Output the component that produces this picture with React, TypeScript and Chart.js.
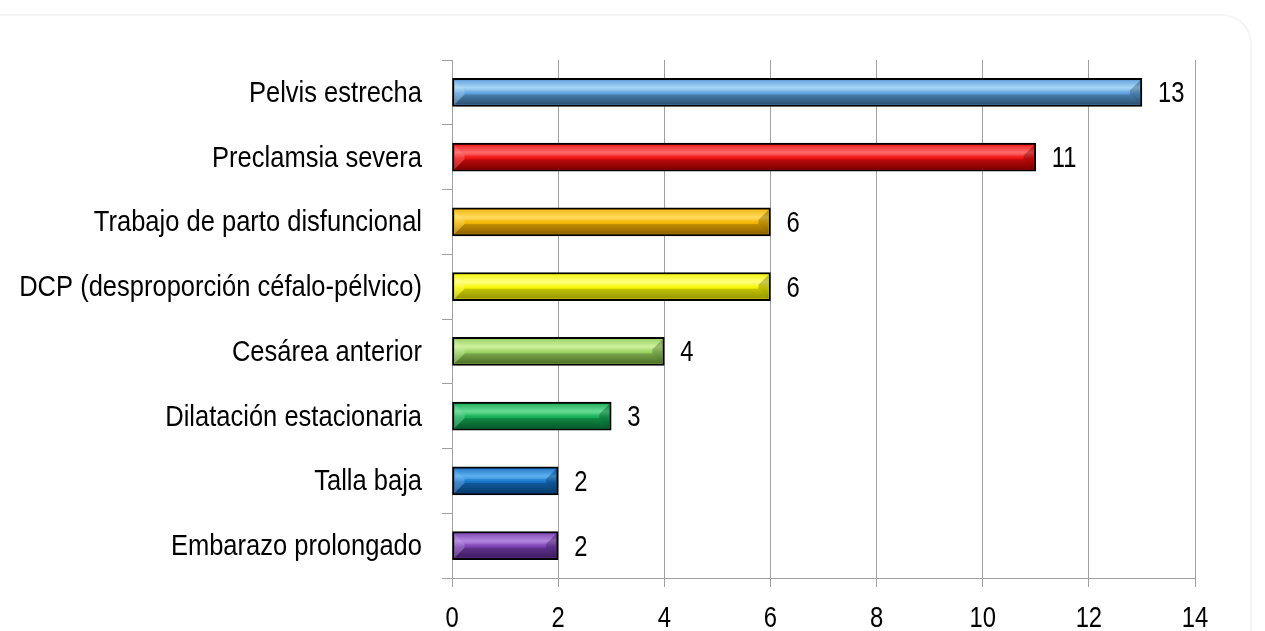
import React, { useEffect, useRef } from "react";
import { Chart, registerables } from "chart.js";

Chart.register(...registerables);

// Causes of caesarean section, number of cases per cause
const categories = [
  "Pelvis estrecha",
  "Preclamsia severa",
  "Trabajo de parto disfuncional",
  "DCP (desproporción céfalo-pélvico)",
  "Cesárea anterior",
  "Dilatación estacionaria",
  "Talla baja",
  "Embarazo prolongado",
];
const values = [13, 11, 6, 6, 4, 3, 2, 2];

// Base, highlight and shadow tones for each bevelled bar
const barColors = ["#5d9fdb", "#ee1010", "#f2b400", "#f5f500", "#98d060", "#14ad55", "#1570c4", "#7a3fb0"];
const barLights = ["#9cd2f6", "#ff5a5a", "#ffd84a", "#ffff70", "#c8f090", "#55d888", "#4aa8f0", "#a978dc"];
const barDarks = ["#36648c", "#9c0000", "#b07a00", "#b8b800", "#5f8c30", "#0a7036", "#0b4a85", "#4d2277"];

const xTicks = { min: 0, max: 14, step: 2 };

const FONT = "'Liberation Sans', Arial, sans-serif";
const FONT_SIZE = 29;
// narrow-face look: horizontal squeeze for words and for numbers
const WORD_SQUEEZE = 0.88;
const DIGIT_SQUEEZE = 0.82;
const GRID = "#a0a0a0";

function drawSqueezed(
  ctx: CanvasRenderingContext2D,
  text: string,
  x: number,
  y: number,
  align: "left" | "right" | "center",
  squeeze: number
) {
  ctx.save();
  ctx.font = `${FONT_SIZE}px ${FONT}`;
  ctx.fillStyle = "#000";
  ctx.textBaseline = "alphabetic";
  ctx.textAlign = align;
  ctx.translate(x, y);
  ctx.scale(squeeze, 1);
  ctx.fillText(text, 0, 0);
  ctx.restore();
}

const bevelPlugin = {
  id: "bevelBars",
  afterDatasetsDraw(chart: any) {
    const ctx = chart.ctx as CanvasRenderingContext2D;
    const meta = chart.getDatasetMeta(0);
    meta.data.forEach((bar: any, i: number) => {
      const { x, y, base, height } = bar.getProps(["x", "y", "base", "height"], true);
      const bw = 2;
      const L = Math.min(base, x) + bw;
      const R = Math.max(base, x) - bw;
      const T = y - height / 2 + bw;
      const B = y + height / 2 - bw;
      const b = Math.min(10, (R - L) / 2, (B - T) / 2);
      ctx.save();
      const g = ctx.createLinearGradient(0, T, 0, B);
      g.addColorStop(0, barColors[i]);
      g.addColorStop(0.3, barLights[i]);
      g.addColorStop(0.55, barColors[i]);
      g.addColorStop(1, barDarks[i]);
      ctx.fillStyle = g;
      ctx.fillRect(L, T, R - L, B - T);
      const poly = (pts: number[][], fill: string) => {
        ctx.beginPath();
        ctx.moveTo(pts[0][0], pts[0][1]);
        for (let k = 1; k < pts.length; k++) ctx.lineTo(pts[k][0], pts[k][1]);
        ctx.closePath();
        ctx.fillStyle = fill;
        ctx.fill();
      };
      poly([[L, T], [R, T], [R - b, T + b], [L + b, T + b]], "rgba(255,255,255,0.10)");
      poly([[L, B], [R, B], [R - b, B - b], [L + b, B - b]], "rgba(0,0,0,0.18)");
      poly([[L, T], [L + b, T + b], [L + b, B - b], [L, B]], "rgba(255,255,255,0.18)");
      poly([[R, T], [R - b, T + b], [R - b, B - b], [R, B]], "rgba(0,0,0,0.22)");
      ctx.restore();

      // value label beside the bar end
      drawSqueezed(ctx, String(values[i]), Math.max(base, x) + 16, y + 10, "left", DIGIT_SQUEEZE);
    });
  },
  afterDraw(chart: any) {
    const ctx = chart.ctx as CanvasRenderingContext2D;
    const yScale = chart.scales.y;
    const xScale = chart.scales.x;
    categories.forEach((label, i) => {
      const py = yScale.getPixelForValue(i);
      drawSqueezed(ctx, label, yScale.right - 30, py + 9.5, "right", WORD_SQUEEZE);
    });
    xScale.ticks.forEach((t: any) => {
      const px = xScale.getPixelForValue(t.value);
      drawSqueezed(ctx, String(t.value), px, xScale.top + 49, "center", DIGIT_SQUEEZE);
    });
  },
};

export default function App() {
  const canvasRef = useRef<HTMLCanvasElement | null>(null);

  useEffect(() => {
    if (!canvasRef.current) return;
    const chart = new Chart(canvasRef.current, {
      type: "bar",
      data: {
        labels: categories,
        datasets: [
          {
            data: values,
            backgroundColor: barColors,
            borderColor: "#000",
            borderWidth: 2,
            borderSkipped: false,
            barThickness: 28,
          },
        ],
      },
      options: {
        indexAxis: "y",
        responsive: false,
        animation: false,
        layout: { padding: { top: 60, right: 70, left: 0, bottom: 0 } },
        plugins: {
          legend: { display: false },
          tooltip: { enabled: false },
        },
        scales: {
          x: {
            min: xTicks.min,
            max: xTicks.max,
            afterFit(scale: any) {
              scale.height = 53;
            },
            ticks: {
              stepSize: xTicks.step,
              color: "rgba(0,0,0,0)",
              font: { family: FONT, size: FONT_SIZE },
            },
            grid: { color: GRID, lineWidth: 1, tickLength: 9 },
            border: { color: GRID, width: 1 },
          },
          y: {
            offset: true,
            afterFit(scale: any) {
              scale.width = 452;
            },
            ticks: {
              color: "rgba(0,0,0,0)",
              font: { family: FONT, size: FONT_SIZE },
            },
            grid: {
              offset: true,
              drawOnChartArea: false,
              color: GRID,
              tickLength: 10,
            },
            border: { color: GRID, width: 1 },
          },
        },
      },
      plugins: [bevelPlugin],
    } as any);
    return () => chart.destroy();
  }, []);

  return (
    <div
      style={{
        position: "fixed",
        left: 0,
        top: 0,
        width: 1265,
        height: 631,
        background: "#fff",
        overflow: "hidden",
      }}
    >
      <div
        style={{
          position: "absolute",
          left: -30,
          top: 14,
          width: 1282,
          height: 700,
          boxSizing: "border-box",
          border: "2px solid #f5f5f5",
          borderRadius: 30,
        }}
      />
      <canvas ref={canvasRef} width={1265} height={631} style={{ position: "absolute", left: 0, top: 0 }} />
    </div>
  );
}
